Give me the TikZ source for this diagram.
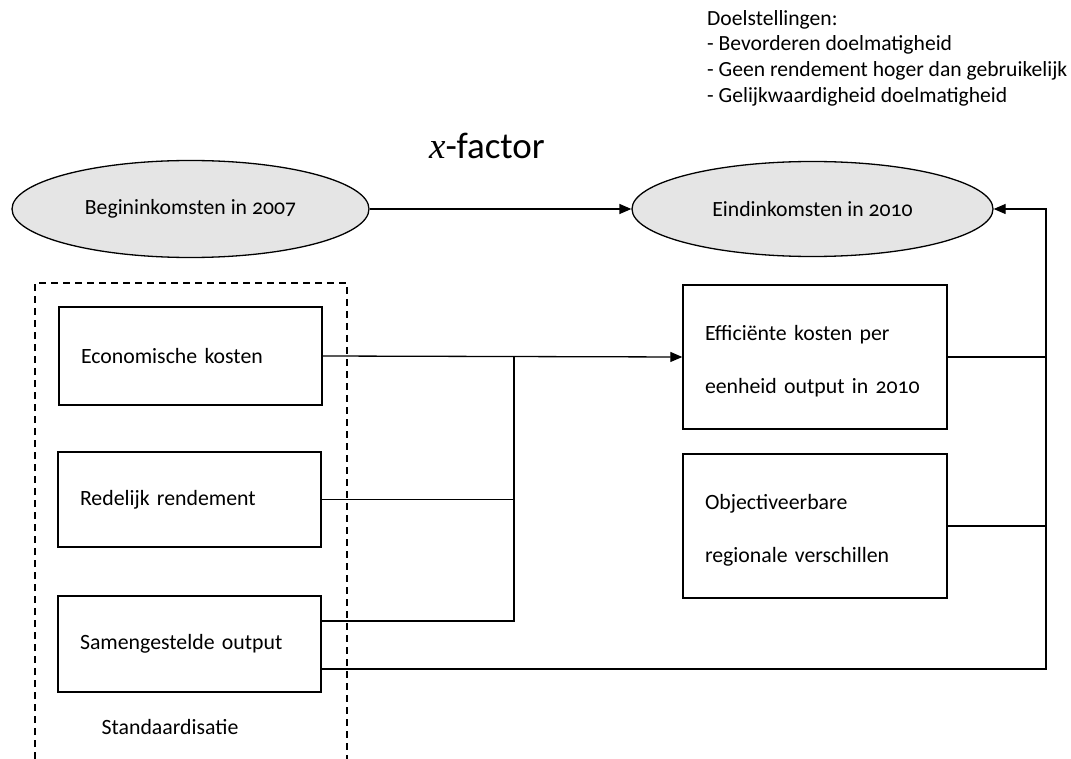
\documentclass[tikz,border=0pt]{standalone}
\usepackage{fontspec}
\setmainfont{Carlito}[Numbers=OldStyle]
\newfontfamily\xserif{Liberation Serif}
\usetikzlibrary{shapes.geometric,arrows.meta}
\tikzset{
  oval/.style={ellipse,draw,line width=1.3pt,fill=gray!20,inner sep=0pt,font=\fontsize{21.7}{24}\selectfont},
  boxnode/.style={rectangle,draw,line width=1.4pt,align=left,inner xsep=22pt,inner ysep=0pt,font=\fontsize{21.8}{24}\selectfont},
  conn/.style={line width=1.3pt},
  arr/.style={line width=1.3pt,-{Triangle[length=12pt,width=10pt]}},
  dashbox/.style={line width=1.4pt,dash pattern=on 7pt off 5pt},
  plain/.style={font=\fontsize{21.8}{24}\selectfont,inner sep=0pt}
}
\begin{document}
\begin{tikzpicture}[x=1pt,y=-1pt]
\useasboundingbox (0,0) rectangle (1071,759);
% goals text
\node[plain,anchor=north west,align=left,font=\fontsize{21.6}{25.8}\selectfont] (goals) at (707,10)
 {Doelstellingen:\\- Bevorderen doelmatigheid\\- Geen rendement hoger dan gebruikelijk\\- Gelijkwaardigheid doelmatigheid};
\node[inner sep=0pt,font=\fontsize{37}{40}\selectfont] (xf) at (487,146) {{\xserif\itshape x}-factor};
% ellipses
\node[oval,minimum width=357pt,minimum height=97pt] (e1) at (190.5,209) {Begininkomsten in 2007};
\node[oval,minimum width=361pt,minimum height=95pt] (e2) at (812.5,209) {Eindinkomsten in 2010};
% dashed box
\draw[dashbox] (35,759) |- (347,283) -- (347,759);
% left boxes
\node[boxnode,text width=219pt,minimum height=98pt] (b1) at (190.5,356) {Economische kosten};
\node[boxnode,text width=219pt,minimum height=95pt] (b2) at (189.5,499.5) {Redelijk rendement};
\node[boxnode,text width=219pt,minimum height=96pt] (b3) at (189.5,644) {Samengestelde output};
\node[plain] (std) at (170,727) {Standaardisatie};
% right boxes
\node[boxnode,text width=220pt,minimum height=144pt,font=\fontsize{21.8}{53}\selectfont] (b4) at (815,357) {\rule{0pt}{24pt}Efficiënte kosten per\\eenheid output in 2010};
\node[boxnode,text width=220pt,minimum height=144pt,font=\fontsize{21.8}{53}\selectfont] (b5) at (815,526) {\rule{0pt}{24pt}Objectiveerbare\\regionale verschillen};
% connectors
\coordinate (j) at (514,357);
\coordinate (rv) at (1046,209);
\coordinate (s1) at ([yshift=23pt]b3.east);
\coordinate (s2) at ([yshift=-25pt]b3.east);
\draw[arr] (e1.east) -- (e2.west);
\draw[arr] (b1.east) -- (b4.west);
\draw[conn] (b2.east) -- (b2.east -| j);
\draw[conn] (j) -- (j |- s1) -- (s1);
\draw[conn] (b4.east) -- (b4.east -| rv);
\draw[conn] (b5.east) -- (b5.east -| rv);
\draw[arr] (s2) -| (rv) -- (e2.east);
\end{tikzpicture}
\end{document}
